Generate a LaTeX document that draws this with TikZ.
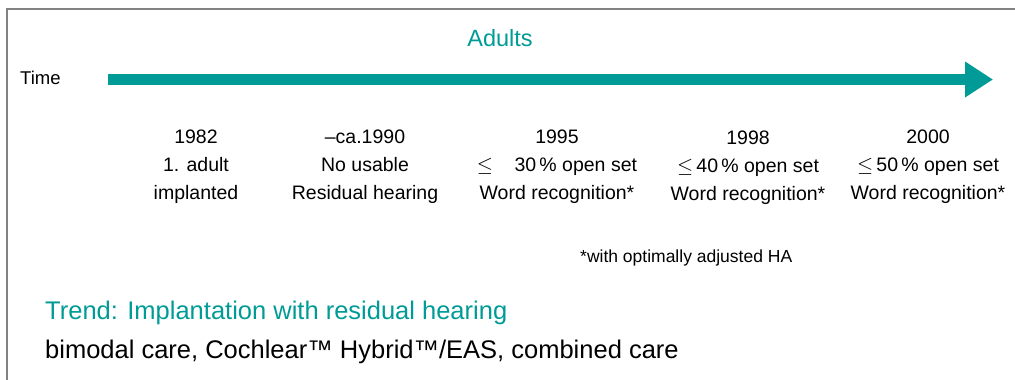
\documentclass[tikz,border=0pt]{standalone}
\usepackage{fontspec}
\setmainfont{Liberation Sans}
\usetikzlibrary{arrows.meta}
\definecolor{teal}{RGB}{0,155,150}
\definecolor{framegray}{RGB}{130,130,130}
\tikzset{
	lbl/.style={font=\fontsize{19.5}{28}\selectfont, align=center, inner sep=0pt},
	big/.style={font=\fontsize{25.5}{30}\selectfont, inner sep=0pt},
}
\begin{document}
\begin{tikzpicture}[x=1pt,y=1pt]
	\useasboundingbox (0,0) rectangle (1015,380);
	\draw [framegray, line width=1.2pt] (7,0) -- (7,371) -- (1015,371);
	\coordinate (start) at (108,300.5);
	\coordinate (end) at (993,300.5);
	\draw [teal, line width=11pt, -{Triangle[width=34pt,length=28pt]}] (start) -- (end);
	\node [font=\fontsize{23.5}{28}\selectfont, inner sep=0pt, text=teal] (adults) at (500,342) {Adults};
	\node [lbl, font=\fontsize{18.5}{28}\selectfont, anchor=west] (time) at (20,302) {Time};
	\node [lbl] (y1982) at (196,213) {1982\\1. adult\\implanted};
	\node [lbl] (y1990) at (365,213) {--ca.1990\\No usable\\Residual hearing};
	\node [lbl] (y1995) at (557,213) {1995\\$\leq$\hspace{1.1em}30\,\% open set\\Word recognition*};
	\node [lbl] (y1998) at (748,212) {1998\\$\leq$\,40\,\% open set\\Word recognition*};
	\node [lbl] (y2000) at (928,213) {2000\\$\leq$\,50\,\% open set\\Word recognition*};
	\node [font=\fontsize{17.5}{20}\selectfont, inner sep=0pt, anchor=west] (note) at (580,122) {*with optimally adjusted HA};
	\node [big, text=teal, anchor=west] (trend) at (45,67) {Trend: Implantation with residual hearing};
	\node [big, anchor=west] (care) at (45,28) {bimodal care, Cochlear™ Hybrid™/EAS, combined care};
\end{tikzpicture}
\end{document}
